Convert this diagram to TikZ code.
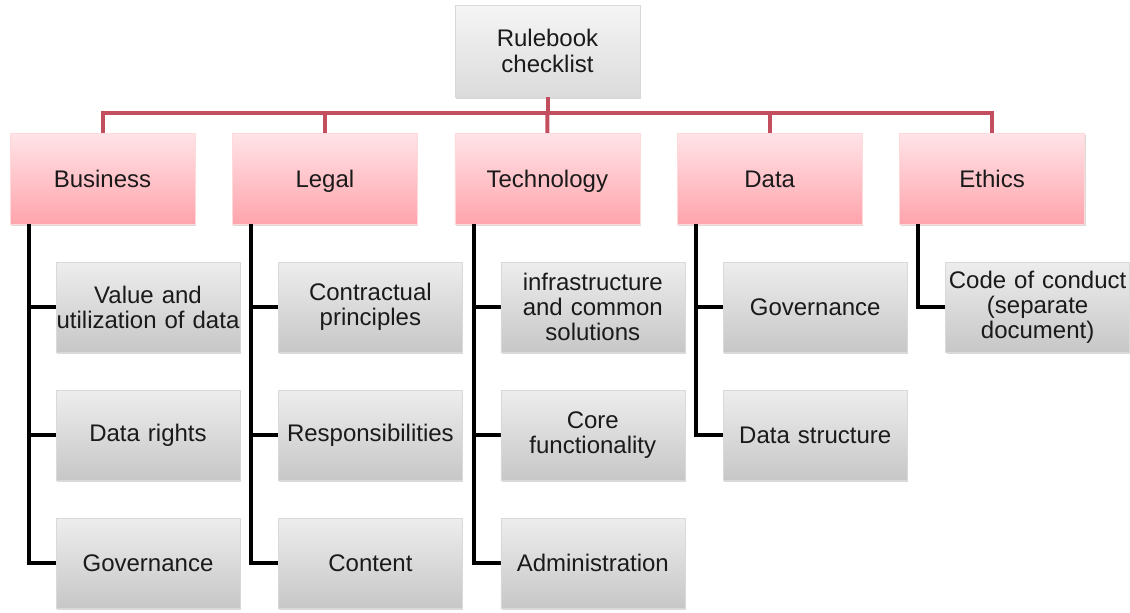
\documentclass[tikz,border=0pt]{standalone}
\usepackage{fontspec}
\setmainfont{Liberation Sans}
\usepackage{tikz}
\usetikzlibrary{shadows}
\definecolor{barred}{HTML}{C24E5E}
\definecolor{textgray}{HTML}{1A1A1A}
\tikzstyle{boxshadow} = [drop shadow={opacity=0.3, shadow xshift=1pt, shadow yshift=-2pt}]
\tikzstyle{top} = [boxshadow, draw=black!15, top color=white!96!black, bottom color=white!86!black,
    minimum width=185pt, minimum height=92pt, text width=180pt, align=center, inner sep=0pt,
    font=\fontsize{24}{26}\selectfont, text=textgray]
\tikzstyle{area} = [boxshadow, draw=red!15, top color={rgb,255:red,255;green,228;blue,232}, bottom color={rgb,255:red,255;green,164;blue,172},
    minimum width=185pt, minimum height=91pt, text width=180pt, align=center, inner sep=0pt,
    text height=19pt, text depth=2pt,
    font=\fontsize{24}{26}\selectfont, text=textgray]
\tikzstyle{item} = [boxshadow, draw=black!15, top color=white!93!black, bottom color=white!78!black,
    minimum width=184pt, minimum height=90pt, text width=183pt, align=center, inner sep=0pt,
    font=\fontsize{24}{25}\selectfont, text=textgray]
\tikzstyle{redline} = [draw=barred, line width=4pt]
\tikzstyle{blackline} = [draw=black, line width=4pt]

\begin{document}
\begin{tikzpicture}[x=1pt, y=-1pt]
\useasboundingbox (0,0) rectangle (1130,613);

% connectors first, boxes drawn on top
\coordinate (bar) at (547.5,113);

\node[top] (root) at (547.5,51) {Rulebook\\checklist};

\node[area] (bus) at (102.5,178.5) {Business};
\node[area] (leg) at (324.9,178.5) {Legal};
\node[area] (tec) at (547.3,178.5) {Technology};
\node[area] (dat) at (769.7,178.5) {Data};
\node[area] (eth) at (992.1,178.5) {Ethics};

\draw[redline] (root.south) -- (bar);
\draw[redline] (bus.north) |- (bar);
\draw[redline] (leg.north) |- (bar);
\draw[redline] (tec.north) -- (bar);
\draw[redline] (dat.north) |- (bar);
\draw[redline] (eth.north) |- (bar);

\coordinate (bus-t) at ([xshift=19pt]bus.south west);
\coordinate (leg-t) at ([xshift=19pt]leg.south west);
\coordinate (tec-t) at ([xshift=19pt]tec.south west);
\coordinate (dat-t) at ([xshift=19pt]dat.south west);
\coordinate (eth-t) at ([xshift=19pt]eth.south west);

% Business
\draw[blackline] (bus-t) |- (148,563);
\draw[blackline] (bus-t |- 0,307) -- (148,307);
\draw[blackline] (bus-t |- 0,435) -- (148,435);
\node[item] (bus1) at (148,307) {Value and\\utilization of data};
\node[item] (bus2) at (148,435) {Data rights};
\node[item] (bus3) at (148,563) {Governance};

% Legal
\draw[blackline] (leg-t) |- (370.4,563);
\draw[blackline] (leg-t |- 0,307) -- (370.4,307);
\draw[blackline] (leg-t |- 0,435) -- (370.4,435);
\node[item] (leg1) at (370.4,307) {Contractual\\principles};
\node[item] (leg2) at (370.4,435) {Responsibilities};
\node[item] (leg3) at (370.4,563) {Content};

% Technology
\draw[blackline] (tec-t) |- (592.8,563);
\draw[blackline] (tec-t |- 0,307) -- (592.8,307);
\draw[blackline] (tec-t |- 0,435) -- (592.8,435);
\node[item] (tec1) at (592.8,307) {infrastructure\\and common\\solutions};
\node[item] (tec2) at (592.8,435) {Core\\functionality};
\node[item] (tec3) at (592.8,563) {Administration};

% Data
\draw[blackline] (dat-t) |- (815.2,435);
\draw[blackline] (dat-t |- 0,307) -- (815.2,307);
\node[item] (dat1) at (815.2,307) {Governance};
\node[item] (dat2) at (815.2,435) {Data structure};

% Ethics
\draw[blackline] (eth-t) |- (1037.6,307);
\node[item] (eth1) at (1037.6,307) {Code of conduct\\(separate\\document)};
\end{tikzpicture}
\end{document}
